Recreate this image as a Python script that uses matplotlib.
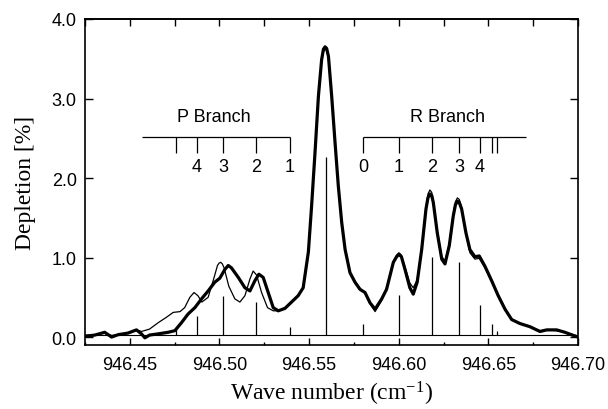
'''
Depletion spectrum with P / R branch assignment
'''

import numpy as np
import matplotlib.pyplot as plt
from matplotlib.ticker import MultipleLocator

# Data
# measured spectrum (thick line)
wn_meas = [946.425, 946.4305, 946.436, 946.4398, 946.4435, 946.449, 946.4537, 946.4565, 946.4584, 946.461,
           946.4658, 946.4714, 946.4751, 946.4788, 946.4825, 946.4863, 946.490, 946.4937, 946.4974, 946.5002,
           946.503, 946.5049, 946.5067, 946.5105, 946.5142, 946.517, 946.5198, 946.522, 946.5244, 946.5272,
           946.530, 946.5328, 946.5365, 946.5402, 946.5439, 946.5467, 946.5496, 946.5514, 946.5533, 946.5552,
           946.557, 946.5580, 946.5589, 946.5598, 946.5608, 946.5626, 946.5645, 946.5663, 946.5682, 946.5701,
           946.5728, 946.5756, 946.5784, 946.5812, 946.584, 946.5868, 946.5905, 946.5932, 946.597, 946.5988,
           946.6001, 946.6015, 946.6035, 946.6062, 946.6081, 946.6103, 946.6128, 946.6152, 946.6163, 946.6174,
           946.6184, 946.6193, 946.6215, 946.624, 946.6258, 946.6282, 946.6304, 946.6316, 946.6327, 946.6338,
           946.6351, 946.6375, 946.6397, 946.6425, 946.6449, 946.6481, 946.6518, 946.6555, 946.6593, 946.663,
           946.6676, 946.6732, 946.6788, 946.6825, 946.6881, 946.6927, 946.6974, 946.700]
dep_meas = [0.01, 0.025, 0.06, 0.0, 0.03, 0.05, 0.09, 0.04, -0.01, 0.025,
            0.04, 0.06, 0.08, 0.18, 0.29, 0.37, 0.48, 0.58, 0.69, 0.74,
            0.85, 0.90, 0.87, 0.75, 0.62, 0.58, 0.71, 0.79, 0.75, 0.56,
            0.37, 0.33, 0.36, 0.44, 0.52, 0.62, 1.07, 1.65, 2.32, 3.03,
            3.49, 3.62, 3.65, 3.63, 3.53, 3.03, 2.44, 1.90, 1.44, 1.10,
            0.81, 0.69, 0.60, 0.56, 0.43, 0.35, 0.48, 0.60, 0.94, 1.01,
            1.04, 1.01, 0.85, 0.62, 0.54, 0.69, 1.10, 1.61, 1.75, 1.80,
            1.78, 1.69, 1.31, 0.98, 0.92, 1.15, 1.52, 1.66, 1.71, 1.69,
            1.61, 1.31, 1.10, 1.01, 1.02, 0.89, 0.71, 0.52, 0.35, 0.22,
            0.17, 0.13, 0.07, 0.09, 0.09, 0.06, 0.02, 0.0]

# simulated spectrum (thin line)
wn_sim = [946.425, 946.4305, 946.436, 946.4398, 946.4435, 946.449, 946.4537, 946.4565, 946.461, 946.4658,
          946.4705, 946.4742, 946.478, 946.4806, 946.4835, 946.4858, 946.488, 946.4902, 946.4937, 946.4965,
          946.4989, 946.4998, 946.5007, 946.5016, 946.5026, 946.5052, 946.5086, 946.5114, 946.5142, 946.517,
          946.5188, 946.5207, 946.5235, 946.5268, 946.530, 946.5328, 946.5365, 946.5402, 946.5439, 946.5467,
          946.5496, 946.5514, 946.5533, 946.5552, 946.557, 946.5580, 946.5589, 946.5598, 946.5608, 946.5626,
          946.5645, 946.5663, 946.5682, 946.5701, 946.5728, 946.5756, 946.5784, 946.5812, 946.584, 946.5868,
          946.5905, 946.5932, 946.597, 946.5988, 946.6001, 946.6015, 946.6035, 946.6062, 946.6081, 946.6103,
          946.6128, 946.6152, 946.6163, 946.6174, 946.6184, 946.6193, 946.6215, 946.624, 946.6258, 946.6282,
          946.6304, 946.6316, 946.6327, 946.6338, 946.6351, 946.6375, 946.6397, 946.6425, 946.6449, 946.6481,
          946.6518, 946.6555, 946.6593, 946.663, 946.6676, 946.6732, 946.6788, 946.6825, 946.6881, 946.6927,
          946.6974, 946.700]
dep_sim = [0.02, 0.03, 0.05, 0.02, 0.03, 0.05, 0.09, 0.07, 0.10, 0.18,
           0.25, 0.31, 0.32, 0.37, 0.50, 0.56, 0.52, 0.44, 0.50, 0.71,
           0.90, 0.93, 0.94, 0.92, 0.87, 0.64, 0.48, 0.44, 0.52, 0.73,
           0.83, 0.78, 0.56, 0.37, 0.33, 0.33, 0.37, 0.44, 0.52, 0.62,
           1.05, 1.63, 2.30, 3.00, 3.46, 3.59, 3.62, 3.60, 3.51, 3.02,
           2.43, 1.90, 1.44, 1.11, 0.82, 0.70, 0.61, 0.55, 0.42, 0.32,
           0.46, 0.60, 0.95, 1.03, 1.06, 1.03, 0.88, 0.68, 0.62, 0.72,
           1.12, 1.64, 1.80, 1.85, 1.82, 1.72, 1.34, 1.01, 0.96, 1.17,
           1.55, 1.70, 1.75, 1.73, 1.63, 1.30, 1.06, 0.98, 0.99, 0.87,
           0.70, 0.52, 0.35, 0.22, 0.17, 0.13, 0.08, 0.09, 0.08, 0.06,
           0.03, 0.01]

# stick spectrum: P5..P1, Q, R0..R6
stick_pos = [946.4757, 946.4874, 946.5019, 946.5203, 946.5393, 946.5592,
             946.5800, 946.6000, 946.6185, 946.6336, 946.6453, 946.6520, 946.6548]
stick_height = [0.10, 0.26, 0.51, 0.44, 0.13, 2.26,
                0.16, 0.53, 1.01, 0.94, 0.40, 0.17, 0.07]
stick_base = 0.03

# branch assignment combs
p_pos = [946.4757, 946.4874, 946.5019, 946.5203, 946.5393]
p_labels = ['', '4', '3', '2', '1']
r_pos = [946.5800, 946.6000, 946.6185, 946.6336, 946.6453, 946.6520, 946.6548]
r_labels = ['0', '1', '2', '3', '4', '', '']
p_span = [946.457, 946.5393]
r_span = [946.5800, 946.671]

sans = 'Liberation Sans'
serif = 'Liberation Serif'
plt.rcParams['font.family'] = sans
plt.rcParams['mathtext.default'] = 'regular'

fig = plt.figure(figsize=(6.08, 4.10), dpi=100)
ax = fig.add_axes([85 / 608, 1 - 346 / 410, 493 / 608, 326 / 410])

# Curves
ax.hlines(stick_base, 946.425, 946.70, color='black', lw=0.8)
ax.vlines(stick_pos, stick_base, stick_height, color='black', lw=0.9)
ax.plot(wn_sim, dep_sim, color='black', lw=0.9, solid_joinstyle='round')
ax.plot(wn_meas, dep_meas, color='black', lw=2.3, solid_joinstyle='round', solid_capstyle='round')

# Branch combs
comb_y, comb_tick, comb_lab = 2.52, 2.32, 2.14
ax.hlines(comb_y, p_span[0], p_span[1], color='black', lw=0.9)
ax.vlines(p_pos, comb_tick, comb_y, color='black', lw=0.9)
for p, lab in zip(p_pos, p_labels):
    ax.text(p, comb_lab, lab, ha='center', va='center', fontsize=13)
ax.text(946.497, 2.78, 'P Branch', ha='center', va='center', fontsize=13)

ax.hlines(comb_y, r_span[0], r_span[1], color='black', lw=0.9)
ax.vlines(r_pos, comb_tick, comb_y, color='black', lw=0.9)
for p, lab in zip(r_pos, r_labels):
    ax.text(p, comb_lab, lab, ha='center', va='center', fontsize=13)
ax.text(946.627, 2.78, 'R Branch', ha='center', va='center', fontsize=13)

# Axes
ax.set_xlim(946.425, 946.70)
ax.set_ylim(-0.1, 4.0)
ax.xaxis.set_major_locator(MultipleLocator(0.05))
ax.xaxis.set_minor_locator(MultipleLocator(0.025))
ax.yaxis.set_major_locator(MultipleLocator(1.0))
ax.xaxis.set_major_formatter(plt.FormatStrFormatter('%.2f'))
ax.yaxis.set_major_formatter(plt.FormatStrFormatter('%.1f'))
ax.tick_params(axis='x', which='major', direction='in', length=5, width=1, labelsize=13, pad=8)
ax.tick_params(axis='x', which='minor', direction='in', length=2.2, width=1)
ax.tick_params(axis='y', which='major', direction='in', length=6, width=1, labelsize=13, pad=6,
               right=True)
top = ax.secondary_xaxis('top')
top.xaxis.set_major_locator(MultipleLocator(0.025))
top.tick_params(direction='in', length=5, width=1, labeltop=False)
for s in ax.spines.values():
    s.set_linewidth(1.2)
top.spines['top'].set_linewidth(1.2)

ax.set_xlabel('Wave number (cm$^{-1}$)', family=serif, fontsize=17, labelpad=4)
ax.set_ylabel('Depletion [%]', family=serif, fontsize=17, labelpad=11)

fig.savefig('out.png', dpi=100)
